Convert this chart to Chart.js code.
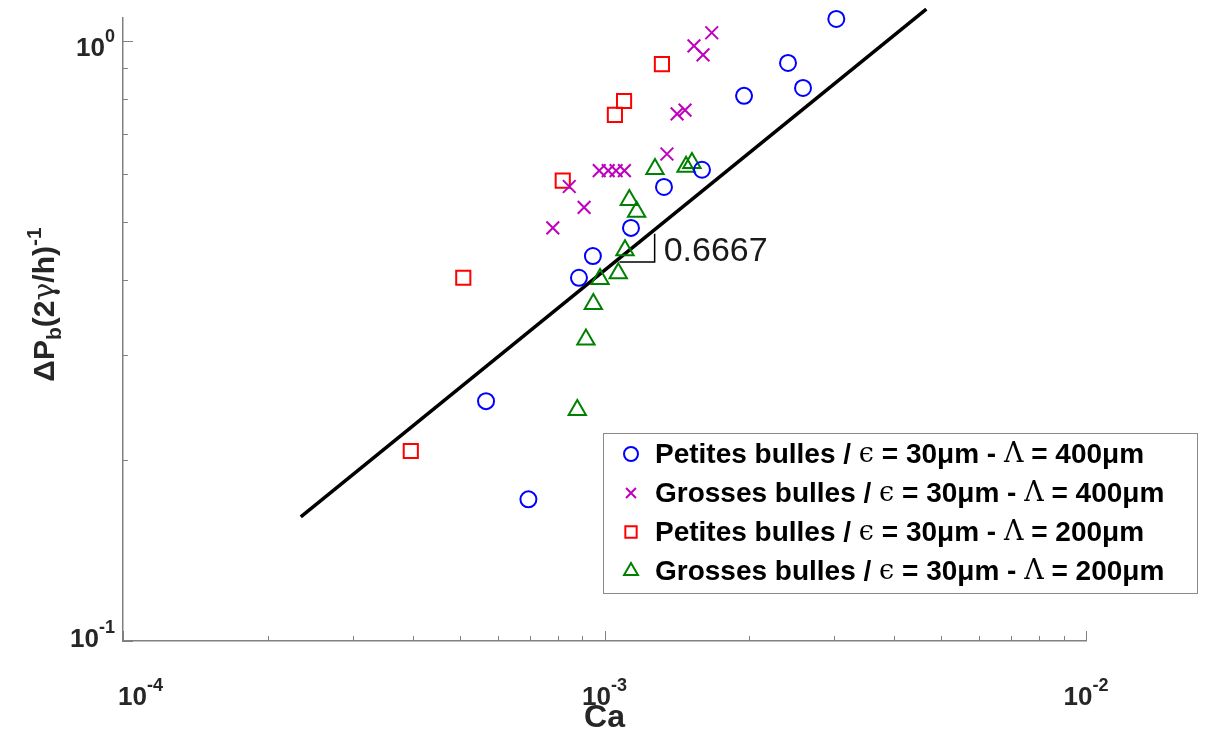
<!DOCTYPE html>
<html>
<head>
<meta charset="utf-8">
<script src="https://cdn.jsdelivr.net/npm/chart.js@4.4.0/dist/chart.umd.min.js"></script>
<style>
html, body { margin: 0; padding: 0; background: #fff; }
#wrap { width: 1228px; height: 732px; }
</style>
</head>
<body>
<div id="wrap"><canvas id="chart" width="1228" height="732"></canvas></div>
<script>
// Petites bulles, Lambda = 400um (blue circles)
const petites400Ca = [3.03e-3, 2.405e-3, 2.584e-3, 1.949e-3, 1.594e-3, 1.329e-3, 1.135e-3, 9.46e-4, 8.85e-4, 5.675e-4, 6.95e-4];
const petites400Dp = [1.088, 0.919, 0.835, 0.810, 0.610, 0.571, 0.488, 0.438, 0.403, 0.251, 0.1722];
// Grosses bulles, Lambda = 400um (purple crosses)
const grosses400Ca = [1.670e-3, 1.534e-3, 1.602e-3, 1.415e-3, 1.470e-3, 1.348e-3, 9.75e-4, 1.018e-3, 1.057e-3, 1.100e-3, 8.45e-4, 9.07e-4, 7.81e-4];
const grosses400Dp = [1.032, 0.981, 0.948, 0.756, 0.767, 0.648, 0.608, 0.608, 0.608, 0.608, 0.572, 0.528, 0.488];
// Petites bulles, Lambda = 200um (red squares)
const petites200Ca = [1.316e-3, 1.098e-3, 1.051e-3, 8.19e-4, 5.09e-4, 3.96e-4];
const petites200Dp = [0.915, 0.794, 0.753, 0.585, 0.403, 0.2073];
// Grosses bulles, Lambda = 200um (green triangles)
const grosses200Ca = [1.273e-3, 1.477e-3, 1.519e-3, 1.126e-3, 1.166e-3, 1.103e-3, 1.068e-3, 9.79e-4, 9.48e-4, 9.15e-4, 8.78e-4];
const grosses200Dp = [0.612, 0.617, 0.626, 0.543, 0.519, 0.448, 0.410, 0.401, 0.3643, 0.318, 0.2427];
// power-law fit line and slope triangle
const fitCa = [2.34e-4, 4.66e-3];
const fitDp = [0.161, 1.13];
const slopeCa = [1.074e-3, 1.271e-3, 1.271e-3];
const slopeDp = [0.428, 0.428, 0.477];
const slopeLabel = "0.6667";

// axes
const xMajorTicks = [1e-4, 1e-3, 1e-2];
const xTickExps = ["-4", "-3", "-2"];
const xMinorTicks = [2e-4, 3e-4, 4e-4, 5e-4, 6e-4, 7e-4, 8e-4, 9e-4, 2e-3, 3e-3, 4e-3, 5e-3, 6e-3, 7e-3, 8e-3, 9e-3];
const yMajorTicks = [0.1, 1];
const yTickExps = ["-1", "0"];
const yMinorTicks = [0.2, 0.3, 0.4, 0.5, 0.6, 0.7, 0.8, 0.9];

const seriesNames = ["Petites bulles", "Grosses bulles", "Petites bulles", "Grosses bulles"];
const seriesLambda = ["400μm", "400μm", "200μm", "200μm"];

const toPts = (xs, ys) => xs.map((x, i) => ({ x: x, y: ys[i] }));

const markerSet = (label, xs, ys, style, radius, color) => ({
    label: label,
    data: toPts(xs, ys),
    pointStyle: style,
    pointRadius: radius,
    pointHoverRadius: radius,
    pointBorderWidth: 2,
    borderColor: color,
    backgroundColor: "rgba(0,0,0,0)",
    showLine: false,
    clip: false
});

const axisColor = "#808080";

const decor = {
    id: "decor",
    afterDraw(chart) {
        const ctx = chart.ctx;
        const xs = chart.scales.x, ys = chart.scales.y;
        const area = chart.chartArea;
        ctx.save();

        // inward ticks
        ctx.strokeStyle = axisColor;
        ctx.lineWidth = 1;
        ctx.beginPath();
        xMajorTicks.forEach(v => {
            const p = Math.round(xs.getPixelForValue(v)) + 0.5;
            ctx.moveTo(p, area.bottom); ctx.lineTo(p, area.bottom - 10);
        });
        xMinorTicks.forEach(v => {
            const p = Math.round(xs.getPixelForValue(v)) + 0.5;
            ctx.moveTo(p, area.bottom); ctx.lineTo(p, area.bottom - 5);
        });
        yMajorTicks.forEach(v => {
            const p = Math.round(ys.getPixelForValue(v)) + 0.5;
            ctx.moveTo(area.left, p); ctx.lineTo(area.left + 10, p);
        });
        yMinorTicks.forEach(v => {
            const p = Math.round(ys.getPixelForValue(v)) + 0.5;
            ctx.moveTo(area.left, p); ctx.lineTo(area.left + 5, p);
        });
        ctx.stroke();

        // tick labels 10^n
        const bigF = "bold 26px 'Liberation Sans', Arial, sans-serif";
        const supF = "bold 18px 'Liberation Sans', Arial, sans-serif";
        ctx.fillStyle = "#262626";
        ctx.textBaseline = "alphabetic";
        ctx.textAlign = "left";
        xMajorTicks.forEach((v, i) => {
            const p = xs.getPixelForValue(v);
            ctx.font = bigF; const w1 = ctx.measureText("10").width;
            ctx.font = supF; const w2 = ctx.measureText(xTickExps[i]).width;
            // keep first label from running left of the axis
            const x0 = Math.max(p - (w1 + w2) / 2, area.left - 5);
            ctx.font = bigF; ctx.fillText("10", x0, 705);
            ctx.font = supF; ctx.fillText(xTickExps[i], x0 + w1, 691);
        });
        yMajorTicks.forEach((v, i) => {
            const p = ys.getPixelForValue(v);
            ctx.font = supF; const w2 = ctx.measureText(yTickExps[i]).width;
            ctx.font = bigF; const w1 = ctx.measureText("10").width;
            const x0 = area.left - 8 - w1 - w2;
            const base = Math.min(p + 15, area.bottom + 6);
            ctx.font = bigF; ctx.fillText("10", x0, base);
            ctx.font = supF; ctx.fillText(yTickExps[i], x0 + w1, base - 14);
        });

        // axis titles
        ctx.fillStyle = "#262626";
        ctx.font = "bold 32px 'Liberation Sans', Arial, sans-serif";
        ctx.textAlign = "center";
        ctx.fillText("Ca", (area.left + area.right) / 2, 727);

        const segs = [
            { t: "ΔP", f: "bold 30px 'Liberation Sans', Arial, sans-serif", dy: 0 },
            { t: "b", f: "bold 21px 'Liberation Sans', Arial, sans-serif", dy: 7 },
            { t: "(2", f: "bold 30px 'Liberation Sans', Arial, sans-serif", dy: 0 },
            { t: "γ", f: "30px 'DejaVu Serif', serif", dy: 0 },
            { t: "/h)", f: "bold 30px 'Liberation Sans', Arial, sans-serif", dy: 0 },
            { t: "-1", f: "bold 21px 'Liberation Sans', Arial, sans-serif", dy: -13 }
        ];
        let total = 0;
        segs.forEach(s => { ctx.font = s.f; s.w = ctx.measureText(s.t).width; total += s.w; });
        ctx.save();
        ctx.translate(54, (area.top + area.bottom) / 2 - 25 + total / 2);
        ctx.rotate(-Math.PI / 2);
        ctx.textAlign = "left";
        let cx = 0;
        segs.forEach(s => { ctx.font = s.f; ctx.fillText(s.t, cx, s.dy); cx += s.w; });
        ctx.restore();

        // slope value
        ctx.fillStyle = "#1a1a1a";
        ctx.font = "34px 'Liberation Sans', Arial, sans-serif";
        ctx.textAlign = "left";
        ctx.fillText(slopeLabel, xs.getPixelForValue(slopeCa[1]) + 9, ys.getPixelForValue(slopeDp[0]) - 1);

        // legend
        const lx = 603.5, ly = 433.5, lw = 594, lh = 160;
        ctx.fillStyle = "#fff";
        ctx.fillRect(lx, ly, lw, lh);
        ctx.strokeStyle = "#8a8a8a";
        ctx.lineWidth = 1;
        ctx.strokeRect(lx, ly, lw, lh);
        const rowsY = [454, 493, 532, 571];
        const mRad = [7, 7, 8, 8];
        const txtF = "bold 28px 'Liberation Sans', Arial, sans-serif";
        const grkF = "27px 'DejaVu Serif', 'Liberation Serif', serif";
        chart.data.datasets.slice(0, 4).forEach((ds, i) => {
            const y = rowsY[i];
            ctx.strokeStyle = ds.borderColor;
            ctx.fillStyle = "rgba(0,0,0,0)";
            ctx.lineWidth = 2;
            Chart.helpers.drawPoint(ctx, { pointStyle: ds.pointStyle, radius: mRad[i], rotation: 0, borderWidth: 2 }, 631, y);
            const parts = [
                { t: seriesNames[i] + " / ", f: txtF },
                { t: "ϵ", f: grkF },
                { t: " = 30μm - ", f: txtF },
                { t: "Λ", f: grkF },
                { t: " = " + seriesLambda[i], f: txtF }
            ];
            let x = 655;
            ctx.fillStyle = "#000";
            ctx.textBaseline = "middle";
            parts.forEach(p => { ctx.font = p.f; ctx.fillText(p.t, x, y + 1); x += ctx.measureText(p.t).width; });
            ctx.textBaseline = "alphabetic";
        });
        ctx.restore();
    }
};

const ctx = document.getElementById("chart").getContext("2d");
const myChart = new Chart(ctx, {
    type: "scatter",
    data: {
        datasets: [
            markerSet("Petites bulles 400", petites400Ca, petites400Dp, "circle", 8, "#0000ff"),
            markerSet("Grosses bulles 400", grosses400Ca, grosses400Dp, "crossRot", 9, "#bf00bf"),
            markerSet("Petites bulles 200", petites200Ca, petites200Dp, "rect", 10, "#ff0000"),
            markerSet("Grosses bulles 200", grosses200Ca, grosses200Dp, "triangle", 10, "#008000"),
            {
                label: "fit",
                data: toPts(fitCa, fitDp),
                showLine: true,
                borderColor: "#000",
                borderWidth: 3.5,
                pointRadius: 0,
                clip: false
            },
            {
                label: "slope",
                data: toPts(slopeCa, slopeDp),
                showLine: true,
                borderColor: "#000",
                borderWidth: 1.5,
                pointRadius: 0,
                clip: false
            }
        ]
    },
    options: {
        responsive: false,
        animation: false,
        devicePixelRatio: 1,
        layout: { padding: { top: 18, right: 142, left: 0, bottom: 0 } },
        plugins: {
            legend: { display: false },
            tooltip: { enabled: false }
        },
        scales: {
            x: {
                type: "logarithmic",
                min: 1e-4,
                max: 1e-2,
                ticks: { display: false },
                grid: { display: true, drawOnChartArea: false, drawTicks: false },
                border: { display: true, color: axisColor, width: 1.5 },
                afterFit: s => { s.height = 91; }
            },
            y: {
                type: "logarithmic",
                min: 0.1,
                max: 1.092,
                ticks: { display: false },
                grid: { display: true, drawOnChartArea: false, drawTicks: false },
                border: { display: true, color: axisColor, width: 1.5 },
                afterFit: s => { s.width = 123; }
            }
        }
    },
    plugins: [decor]
});
</script>
</body>
</html>
